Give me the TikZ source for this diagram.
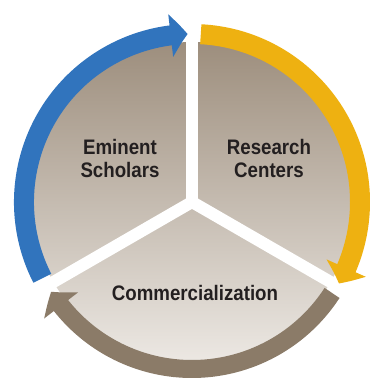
\documentclass[tikz,border=0pt]{standalone}
\usepackage{fontspec}
\newfontfamily\wordfont{Liberation Sans}[FakeStretch=0.89]
\usetikzlibrary{arrows.meta,bending}
\definecolor{esblue}{HTML}{3174BD}
\definecolor{rcgold}{HTML}{EEB111}
\definecolor{cmbrown}{HTML}{8B7B68}
\definecolor{disktop}{HTML}{9D8E7D}
\definecolor{diskbot}{HTML}{ECE8E3}
\definecolor{txtdark}{HTML}{231F20}
\begin{document}
\begin{tikzpicture}[x=1pt,y=1pt]
\useasboundingbox (-192,-179) rectangle (178,202);
\coordinate (c) at (0,0);

% disk and the three cuts
\shade[top color=disktop,bottom color=diskbot] (c) circle[radius=160pt];
\begin{scope}[every path/.style={draw=white,line width=12pt}]
    \path (c) -- (90:190pt);
    \path (c) -- (210:190pt);
    \path (c) -- (330:190pt);
\end{scope}

% cycle arrows
\begin{scope}[every path/.style={line width=20pt},
              >={Triangle[length=17pt,width=42pt,bend]}]
    \draw [->, draw=esblue] (207:168pt) arc[start angle=207, end angle=91.5, radius=168pt];
    \draw [->, draw=rcgold] (87:168pt) arc[start angle=87, end angle=-29, radius=168pt];
    \draw [->, draw=cmbrown, line width=18pt] (-33:167pt) arc[start angle=-33, end angle=-147.5, radius=167pt];
\end{scope}

\begin{scope}[every node/.style={font=\wordfont\bfseries\fontsize{21}{23}\selectfont,
              text=txtdark,align=center}]
    \node (eminent)  at (-72,44) {Eminent\\Scholars};
    \node (research) at (77,44)  {Research\\Centers};
    \node (commerce) at (3,-91)  {Commercialization};
\end{scope}
\end{tikzpicture}
\end{document}
